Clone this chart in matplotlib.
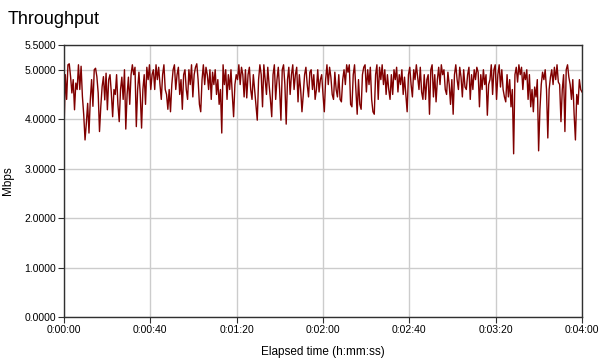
import numpy as np
import matplotlib
matplotlib.use("Agg")
import matplotlib.pyplot as plt
from matplotlib.ticker import FuncFormatter, FixedLocator

plt.rcParams['font.family'] = ['Liberation Sans', 'DejaVu Sans']

# Throughput (Mbps), evenly sampled over the 240 s run
seg_a = [3.78, 4.9, 4.4, 5.1, 5.12, 4.86, 4.53, 4.8, 4.19, 4.73, 4.6, 5.1, 4.6, 5.07, 4.46,
         4.09, 3.58, 3.92, 4.32, 3.72, 4.39, 4.8, 4.26, 5.0, 5.03, 4.86, 4.53, 3.75, 4.26,
         4.66, 4.86, 4.39, 4.93, 4.19, 4.8, 4.9, 4.53, 4.05, 4.6]
seg_b = [4.5, 4.9, 4.3, 3.95, 4.6, 4.85, 4.4, 5.0, 3.8, 4.5, 4.85, 4.3, 4.9, 5.1, 4.9,
         5.05, 3.85, 4.6, 4.95, 4.5, 3.82, 4.6, 4.9, 4.3, 5.05, 4.8, 5.1, 4.6, 4.9]
seg_c = [5.0, 4.6, 5.1, 4.8, 5.05, 4.7, 4.4, 4.9, 5.1, 4.6, 4.5, 4.2, 4.6, 4.15, 4.7, 5.0,
         5.1, 4.6, 4.9, 5.05, 4.5, 4.8, 4.2, 4.9, 5.0, 4.6, 4.4, 5.0, 4.7, 5.1, 4.45, 4.9,
         5.05, 5.12, 4.8, 4.3, 4.15, 4.8, 5.1, 4.7, 5.05, 4.9, 4.6, 5.0, 4.4, 4.95, 4.7, 5.0,
         4.5, 4.8, 4.3, 4.6, 3.72, 5.1, 4.7, 5.0, 4.4, 4.9, 4.6, 5.0, 4.5, 4.05, 4.7, 4.9]
seg_d = [4.8, 5.1, 4.7, 5.05, 4.9, 4.45, 5.0, 4.43, 4.9, 5.05, 4.6, 4.4, 4.9, 4.6, 4.3, 3.98,
         4.8, 5.1, 4.9, 4.25, 5.1, 4.8, 4.5, 5.05, 4.7, 4.4, 4.05, 4.9, 5.1, 4.4, 4.8, 5.05,
         4.6, 3.98, 5.0, 5.1, 4.7, 3.9, 4.8, 5.05, 4.5, 4.9, 5.1, 4.6, 4.9, 5.05, 4.35, 4.9,
         4.6, 4.15, 4.5, 4.9, 5.05, 4.7, 4.45, 4.95, 5.0, 4.6, 4.9, 4.4, 4.6, 5.0, 4.55, 4.8]
seg_e = [4.9, 4.5, 4.15, 4.8, 5.1, 4.7, 5.05, 4.85, 4.5, 4.4, 4.95, 4.6, 4.45, 4.9, 4.4, 4.35,
         4.8, 5.0, 4.7, 5.1, 4.95, 5.1, 4.3, 4.25, 4.9, 5.1, 4.6, 4.1, 4.8, 4.3, 4.2, 4.9,
         5.05, 5.1, 4.55, 5.0, 4.7, 5.05, 4.4, 4.15, 4.1, 4.9, 5.1, 4.4, 5.05, 4.8, 5.1, 4.7,
         5.0, 4.5, 4.9, 4.6, 4.4, 4.9, 4.5, 5.0, 4.8, 5.05, 4.55, 4.9, 4.7, 5.0, 4.5, 4.85]
seg_f = [4.5, 4.15, 4.9, 5.05, 4.7, 4.45, 5.0, 4.8, 5.1, 4.85, 4.6, 5.05, 4.55, 4.4, 4.9, 4.4,
         4.8, 4.9, 4.1, 5.0, 5.1, 4.45, 4.9, 4.35, 4.8, 5.05, 4.7, 5.1, 4.9, 5.0, 4.6, 4.5,
         4.95, 4.7, 4.3, 4.8, 4.1, 4.9, 5.1, 4.8, 4.6, 5.05, 4.85, 4.45, 5.0, 4.65, 4.6, 4.9,
         5.05, 4.4, 4.9, 4.6, 5.0, 4.8, 5.05, 4.95, 4.25, 4.9, 4.6, 5.0, 4.7, 4.9, 4.08, 4.7]
seg_g = [4.8, 5.1, 4.5, 5.0, 5.1, 4.4, 4.9, 5.1, 4.65, 5.0, 4.6, 4.45, 4.35, 4.9, 4.45, 4.8,
         4.25, 4.6, 3.3, 4.9, 5.05, 4.75, 5.1, 4.9, 5.05, 4.6, 4.95, 4.8, 5.0, 4.4, 4.9, 4.25,
         4.6, 4.15, 4.65, 4.45, 4.8, 3.36, 4.2, 4.7, 4.95, 4.8, 5.0, 4.6, 3.62, 4.6, 4.85, 5.0,
         4.7, 5.05, 4.8, 5.1, 4.75, 4.7, 3.95, 4.6, 4.9, 3.75, 5.0, 5.1, 4.85, 4.7, 4.4, 4.8,
         4.1, 3.58, 4.5, 4.3, 4.8, 4.6, 4.55]

mbps = np.array(seg_a + seg_b + seg_c + seg_d + seg_e + seg_f + seg_g)
elapsed_s = np.linspace(0, 240, len(mbps))

x_ticks = [0, 40, 80, 120, 160, 200, 240]
y_ticks = [0.0, 1.0, 2.0, 3.0, 4.0, 5.0, 5.5]

fig = plt.figure(figsize=(6.0, 3.62), dpi=100)
ax = fig.add_axes([64/600, 1-317/362, (582-64)/600, (317-45)/362])

ax.plot(elapsed_s, mbps, color='#800000', lw=1.0)

ax.set_xlim(0, 240)
ax.set_ylim(0, 5.5)
ax.xaxis.set_major_locator(FixedLocator(x_ticks))
ax.yaxis.set_major_locator(FixedLocator(y_ticks))

def hms(v, pos):
    v = int(round(v))
    return f"{v//3600}:{(v%3600)//60:02d}:{v%60:02d}"

ax.xaxis.set_major_formatter(FuncFormatter(hms))
ax.yaxis.set_major_formatter(FuncFormatter(lambda v, p: f"{v:.4f}"))

ax.grid(True, color='#cccccc', lw=1)
ax.set_axisbelow(True)
for s in ax.spines.values():
    s.set_color('#303030')
    s.set_linewidth(1)

ax.tick_params(axis='both', direction='out', length=4, width=0.8, color='#303030',
               labelsize=7.5, pad=1.5)

ax.set_xlabel('Elapsed time (h:mm:ss)', fontsize=8.5, labelpad=8)
ax.set_ylabel('Mbps', fontsize=8.5, labelpad=8)

fig.text(8/600, 1-20/362, 'Throughput', fontsize=13, ha='left', va='center')

fig.savefig('out.png', dpi=100)
